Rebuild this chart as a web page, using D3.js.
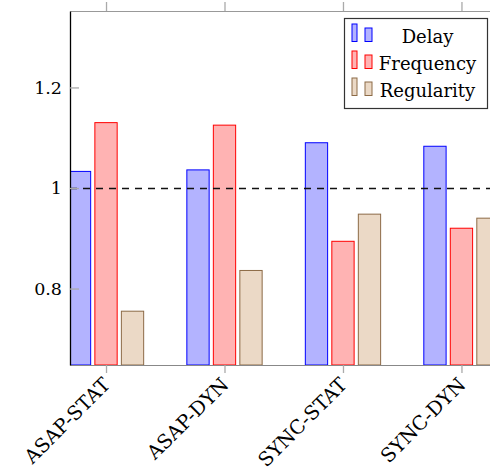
<!DOCTYPE html>
<html>
<head>
<meta charset="utf-8">
<script src="https://cdn.jsdelivr.net/npm/d3@7"></script>
<style>
  body { margin: 0; background: #fff; }
</style>
</head>
<body>
<div class="chart"></div>
<script>
var categories = ["ASAP-STAT", "ASAP-DYN", "SYNC-STAT", "SYNC-DYN"];
var delay      = [1.033, 1.036, 1.090, 1.083];
var frequency  = [1.130, 1.125, 0.894, 0.920];
var regularity = [0.755, 0.836, 0.948, 0.940];
var seriesNames = ["Delay", "Frequency", "Regularity"];
var yTicks = [0.8, 1, 1.2];
var refValue = 1;

var series = [
  { name: "Delay",      values: delay,      fill: "#b3b3ff", stroke: "#0000ff" },
  { name: "Frequency",  values: frequency,  fill: "#ffb3b3", stroke: "#ff0000" },
  { name: "Regularity", values: regularity, fill: "#ebd9c6", stroke: "#8c6a46" }
];

var W = 490, H = 474;
var margin = { left: 70, top: 11, right: 497, bottom: 365 };
var serif = "DejaVu Serif";

var x = d3.scaleLinear().domain([-0.304, 3.30]).range([margin.left, margin.right]);
var y = d3.scaleLinear().domain([0.648, 1.352]).range([margin.bottom, margin.top]);

var barW = 22.3, step = 26.5;

var svg = d3.select(".chart").append("svg")
    .attr("width", W)
    .attr("height", H);

svg.append("clipPath").attr("id", "plot")
   .append("rect")
   .attr("x", margin.left).attr("y", margin.top)
   .attr("width", margin.right - margin.left).attr("height", margin.bottom - margin.top);

var bars = svg.append("g").attr("clip-path", "url(#plot)");

series.forEach(function(s, si) {
  bars.selectAll(".bar" + si)
      .data(s.values)
      .enter().append("rect")
      .attr("x", function(d, i) { return x(i) + (si - 1) * step - barW / 2; })
      .attr("y", function(d) { return y(d); })
      .attr("width", barW)
      .attr("height", function(d) { return y(y.domain()[0]) - y(d); })
      .attr("fill", s.fill)
      .attr("stroke", s.stroke)
      .attr("stroke-width", 1);
});

// reference line at 1
bars.append("line")
    .attr("x1", margin.left).attr("x2", margin.right)
    .attr("y1", y(refValue) + 0.5).attr("y2", y(refValue) + 0.5)
    .attr("stroke", "#111")
    .attr("stroke-width", 1.3)
    .attr("stroke-dasharray", "7,6");

// axes
var xAxis = d3.axisBottom(x)
    .tickValues(d3.range(categories.length))
    .tickSizeInner(8).tickSizeOuter(0)
    .tickFormat(function(i) { return categories[i]; });

var gx = svg.append("g")
    .attr("transform", "translate(0," + margin.bottom + ")")
    .call(xAxis)
    .attr("font-family", serif)
    .attr("font-size", "19.5px");
gx.select(".domain").attr("stroke", "#888").attr("stroke-width", 1.2);
gx.selectAll(".tick line").attr("stroke", "#aaa").attr("stroke-width", 1.3);
gx.selectAll(".tick text")
  .attr("y", 0).attr("dy", "0.35em")
  .attr("text-anchor", "end")
  .attr("transform", "translate(0,16) rotate(-45)")
  .attr("fill", "#000");

var gxTop = svg.append("g")
    .attr("transform", "translate(0," + margin.top + ")")
    .call(d3.axisTop(x).tickValues(d3.range(categories.length))
            .tickSizeInner(9).tickSizeOuter(0).tickFormat(""));
gxTop.select(".domain").attr("stroke", "#999").attr("stroke-width", 1.2);
gxTop.selectAll(".tick line").attr("stroke", "#aaa").attr("stroke-width", 1.3);

var gy = svg.append("g")
    .attr("transform", "translate(" + margin.left + ",0)")
    .call(d3.axisLeft(y).tickValues(yTicks)
            .tickSizeInner(-9).tickSizeOuter(0).tickPadding(8)
            .tickFormat(function(d) { return d === 1 ? "1" : d3.format(".1f")(d); }))
    .attr("font-family", serif)
    .attr("font-size", "17.5px");
gy.select(".domain").attr("stroke", "#000").attr("stroke-width", 1.3);
gy.selectAll(".tick line").attr("stroke", "#aaa").attr("stroke-width", 1.3);
gy.selectAll(".tick text")
  .attr("x", -8)
  .attr("fill", "#000");

// legend
var lg = svg.append("g").attr("transform", "translate(344.5,18.5)")
    .attr("font-family", serif)
    .attr("font-size", "18px");
lg.append("rect")
  .attr("width", 143).attr("height", 90)
  .attr("fill", "#fff").attr("stroke", "#333").attr("stroke-width", 1.2);

series.forEach(function(s, i) {
  var base = 23 + i * 27;
  var row = lg.append("g").attr("transform", "translate(0," + base + ")");
  row.append("rect").attr("x", 7.5).attr("y", -17.5).attr("width", 5).attr("height", 17.5)
     .attr("fill", s.fill).attr("stroke", s.stroke).attr("stroke-width", 1);
  row.append("rect").attr("x", 20.5).attr("y", -13.5).attr("width", 7).attr("height", 13.5)
     .attr("fill", s.fill).attr("stroke", s.stroke).attr("stroke-width", 1);
  row.append("text")
     .attr("x", 83).attr("y", 1)
     .attr("text-anchor", "middle")
     .text(seriesNames[i]);
});
</script>
</body>
</html>
